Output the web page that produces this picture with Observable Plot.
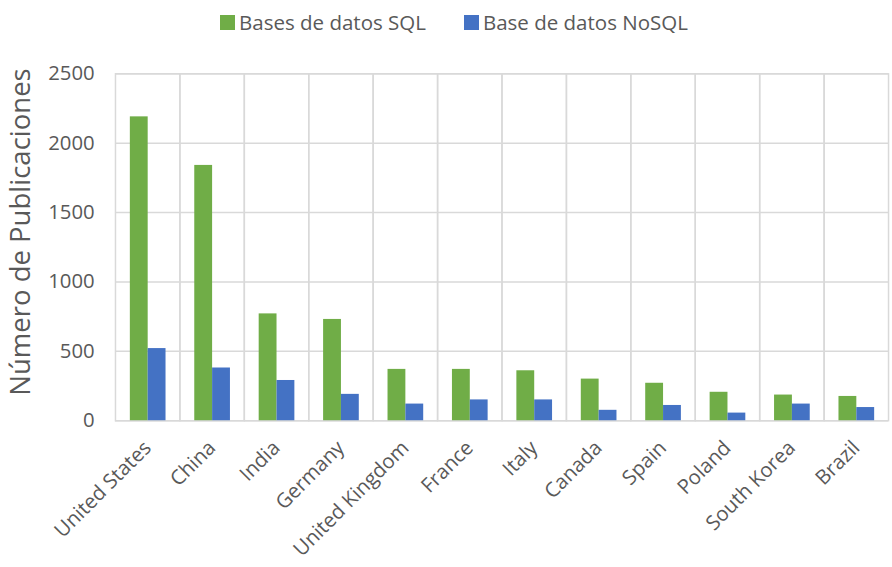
<!DOCTYPE html>
<html>
<head>
<meta charset="utf-8">
<script src="https://cdn.jsdelivr.net/npm/d3@7"></script>
<script src="https://cdn.jsdelivr.net/npm/@observablehq/plot@0.6"></script>
<style>
  html, body { margin: 0; padding: 0; background: #fff; overflow: hidden; }
  #wrap { position: relative; width: 892px; height: 567px; overflow: hidden; font-family: "Open Sans", sans-serif; color: #595959; }
  #legend { position: absolute; z-index: 2; top: 8px; left: 220px; display: flex; align-items: center; font-size: 20.5px; white-space: nowrap; }
  #legend .item { display: flex; align-items: center; margin-right: 38px; }
  #legend .sw { width: 15px; height: 15px; margin-right: 4px; }
  #ylabel { position: absolute; z-index: 2; left: 20px; top: 232px; transform: translate(-50%, -50%) rotate(-90deg); font-size: 27.5px; white-space: nowrap; line-height: 1; }
  #chart { position: absolute; z-index: 1; top: 0; left: 0; }
</style>
</head>
<body>
<div id="wrap">
  <div id="legend"></div>
  <div id="ylabel"></div>
  <div id="chart"></div>
</div>
<script>
const countries = ["United States", "China", "India", "Germany", "United Kingdom", "France", "Italy", "Canada", "Spain", "Poland", "South Korea", "Brazil"];
const seriesNames = ["Bases de datos SQL", "Base de datos NoSQL"];
const seriesColors = ["#70AD47", "#4472C4"];
const sqlValues = [2190, 1840, 770, 730, 370, 370, 360, 300, 270, 205, 185, 175];
const nosqlValues = [520, 380, 290, 190, 120, 150, 150, 75, 110, 55, 120, 95];
const yTicks = [0, 500, 1000, 1500, 2000, 2500];
const yLabel = "Número de Publicaciones";

const data = countries.flatMap((c, i) => [
  {country: c, serie: seriesNames[0], value: sqlValues[i]},
  {country: c, serie: seriesNames[1], value: nosqlValues[i]}
]);

const legend = document.getElementById("legend");
seriesNames.forEach((n, i) => {
  const it = document.createElement("div");
  it.className = "item";
  const sw = document.createElement("div");
  sw.className = "sw";
  sw.style.background = seriesColors[i];
  const t = document.createElement("span");
  t.textContent = n;
  it.appendChild(sw); it.appendChild(t);
  legend.appendChild(it);
});
document.getElementById("ylabel").textContent = yLabel;

const chart = Plot.plot({
  width: 900,
  height: 567,
  marginTop: 74,
  marginBottom: 143,
  marginLeft: 113,
  marginRight: 1,
  style: {fontFamily: "Open Sans, sans-serif", fontSize: "20.5px", color: "#595959", background: "transparent"},
  fx: {domain: countries, padding: 0, label: null},
  x: {domain: seriesNames, paddingInner: 0, paddingOuter: 0.77, axis: null},
  y: {domain: [0, 2500], label: null},
  color: {domain: seriesNames, range: seriesColors},
  marks: [
    Plot.frame({stroke: "#d9d9d9", strokeWidth: 1.5}),
    Plot.ruleY(yTicks, {stroke: "#d9d9d9", strokeWidth: 1.5}),
    Plot.barY(data, {fx: "country", x: "serie", y: "value", fill: "serie"}),
    Plot.axisY(yTicks, {tickSize: 0, tickPadding: 21, tickFormat: d => String(d), fontSize: 20.5, label: null, fill: "#595959"}),
    Plot.axisFx({anchor: "bottom", tickSize: 0, tickRotate: -45, tickPadding: 24, fontSize: 20.5, label: null, fill: "#595959"})
  ]
});
document.getElementById("chart").appendChild(chart);
</script>
</body>
</html>
